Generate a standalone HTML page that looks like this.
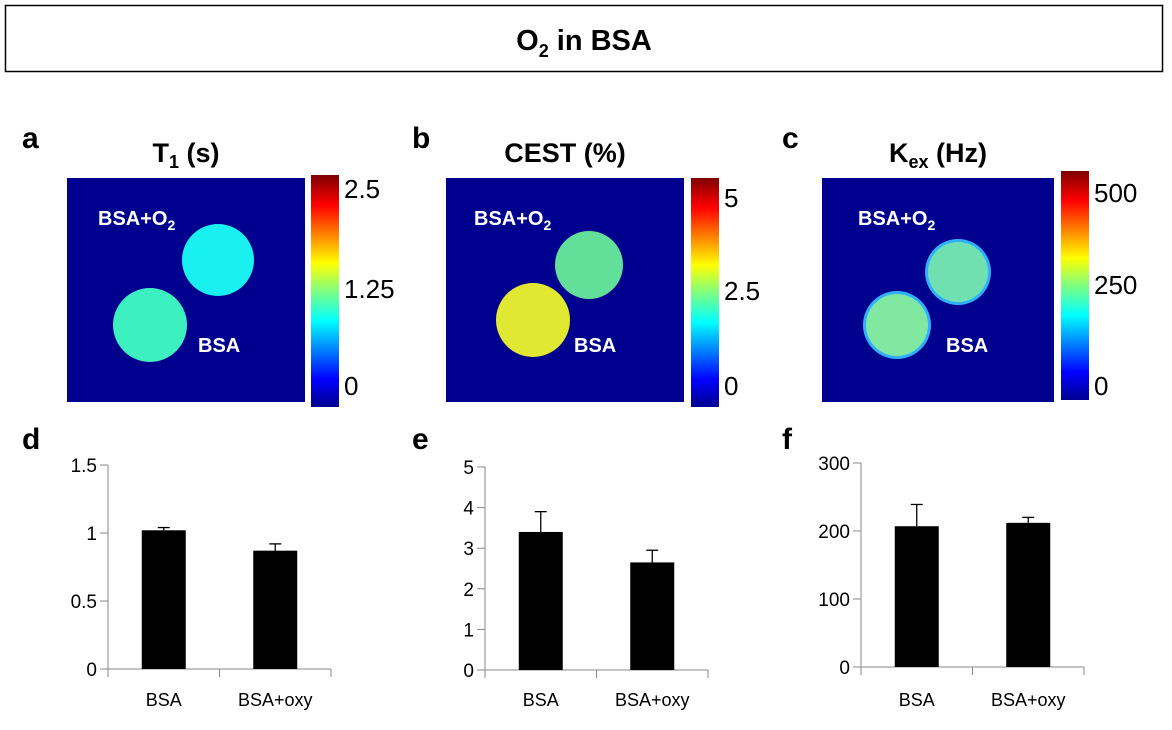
<!DOCTYPE html>
<html><head><meta charset="utf-8"><style>
body{margin:0;background:#fff;width:1172px;height:730px;overflow:hidden;font-family:"Liberation Sans",sans-serif;}
svg{position:absolute;left:0;top:0}
</style></head><body>
<svg width="1172" height="730" xmlns="http://www.w3.org/2000/svg" id="fig">
<defs>
<linearGradient id="jet" x1="0" y1="1" x2="0" y2="0">
<stop offset="0" stop-color="#00008f"/><stop offset="0.12" stop-color="#0000ff"/>
<stop offset="0.37" stop-color="#00ffff"/><stop offset="0.5" stop-color="#7fff7f"/>
<stop offset="0.62" stop-color="#ffff00"/><stop offset="0.87" stop-color="#ff0000"/>
<stop offset="1" stop-color="#800000"/></linearGradient>
</defs>
<g>
<rect x="5.5" y="5.5" width="1157" height="66" fill="#fff" stroke="#000" stroke-width="1.5"/>
<text x="584" y="50" text-anchor="middle" font-size="29" font-weight="bold">O<tspan font-size="18" dy="7">2</tspan><tspan dy="-7"> in BSA</tspan></text>
</g>
<g id="maps"></g>
<g id="bars"></g>
</svg>
<script>
const NS="http://www.w3.org/2000/svg";
function mk(p,t,a,txt){const e=document.createElementNS(NS,t);for(const k in a)e.setAttribute(k,a[k]);if(txt!==undefined)e.textContent=txt;p.appendChild(e);return e;}
// ---- map panels ----
const mapLetters=["a","b","c"];
const mapTicks=[["2.5","1.25","0"],["5","2.5","0"],["500","250","0"]];
const mapGeo=[
 {x:67,w:238,cb:311,cbY:175,cbH:232,tickY:[188,288,385],lx:22,tx:186,circ:[[218,260,36,"#19f0f0"],[150,325,37,"#3cf0c0"]],lab1:[98,225],lab2:[198,352]},
 {x:446,w:238,cb:691,cbY:178,cbH:229,tickY:[197,290,385],lx:412,tx:565,circ:[[589,265,34,"#62e09a"],[533,320,37,"#e0e832"]],lab1:[474,225],lab2:[574,352]},
 {x:822,w:232,cb:1061,cbY:171,cbH:229,tickY:[192,284,385],lx:782,tx:938,circ:[[958,272,33,"#70e0b0"],[897,325,34,"#80e8a0"]],lab1:[858,225],lab2:[946,352]}];
const maps=document.getElementById('maps');
mapGeo.forEach((g,i)=>{
 const G=mk(maps,'g',{});
 
 
 mk(G,'text',{x:g.lx,y:148,'font-size':30,'font-weight':'bold'},mapLetters[i]);
 const t=mk(G,'text',{x:g.tx,y:162,'text-anchor':'middle','font-size':27,'font-weight':'bold'});
 if(i==0)t.innerHTML='T<tspan font-size="18" dy="6">1</tspan><tspan dy="-6"> (s)</tspan>';
 else if(i==1)t.textContent='CEST (%)';
 else t.innerHTML='K<tspan font-size="18" dy="6">ex</tspan><tspan dy="-6"> (Hz)</tspan>';
 mk(G,'rect',{x:g.x,y:178,width:g.w,height:224,fill:'#00008f'});
 g.circ.forEach(c=>{ if(i==2)mk(G,'circle',{cx:c[0],cy:c[1],r:c[2],fill:'#30b0ff'}); mk(G,'circle',{cx:c[0],cy:c[1],r:i==2?c[2]-3:c[2],fill:c[3]});});
 const l1=mk(G,'text',{x:g.lab1[0],y:g.lab1[1],fill:'#fff','font-size':20,'font-weight':'bold'});
 l1.innerHTML='BSA+O<tspan font-size="14" dy="5">2</tspan>';
 mk(G,'text',{x:g.lab2[0],y:g.lab2[1],fill:'#fff','font-size':20,'font-weight':'bold'},'BSA');
 const cb=mk(G,'rect',{x:g.cb,y:g.cbY,width:28,height:g.cbH,fill:'url(#jet)'});
 
 
 mapTicks[i].forEach((s,k)=>mk(G,'text',{x:g.cb+33,y:g.tickY[k]+10,'font-size':26},s));
});
// ---- bar charts ----
const categories=["BSA","BSA+oxy"];
const tValues=[1.02,0.87], tErr=[0.02,0.05];
const cestValues=[3.4,2.65], cestErr=[0.5,0.3];
const kexValues=[207,212], kexErr=[32,8];
const tTicks=["0","0.5","1","1.5"], cestTicks=["0","1","2","3","4","5"], kexTicks=["0","100","200","300"];
const barDefs=[
 {L:"d",vals:tValues,err:tErr,ticks:tTicks,max:1.5,ax:108,top:465,bot:669,lx:22},
 {L:"e",vals:cestValues,err:cestErr,ticks:cestTicks,max:5,ax:485,top:467,bot:670,lx:412},
 {L:"f",vals:kexValues,err:kexErr,ticks:kexTicks,max:300,ax:861,top:463,bot:667,lx:782}];
const bars=document.getElementById('bars');
barDefs.forEach(d=>{
 const G=mk(bars,'g',{});
 
 
 mk(G,'text',{x:d.lx,y:449,'font-size':30,'font-weight':'bold'},d.L);
 const y=v=>d.bot-(v/d.max)*(d.bot-d.top);
 const W=223, xend=d.ax+W;
 mk(G,'line',{x1:d.ax,y1:d.top,x2:d.ax,y2:d.bot,stroke:'#888'});
 mk(G,'line',{x1:d.ax,y1:d.bot,x2:xend,y2:d.bot,stroke:'#888'});
 [0,1,2].forEach(k=>mk(G,'line',{x1:d.ax+k*W/2,y1:d.bot,x2:d.ax+k*W/2,y2:d.bot+8,stroke:'#888'}));
 d.ticks.forEach(s=>{const v=+s;const yy=y(v);
  mk(G,'line',{x1:d.ax-8,y1:yy,x2:d.ax,y2:yy,stroke:'#888'});
  mk(G,'text',{x:d.ax-11,y:yy+7,'text-anchor':'end','font-size':19},s);});
 d.vals.forEach((v,k)=>{
  const cx=d.ax+W/4+k*W/2;
  const b=mk(G,'rect',{x:cx-22,y:y(v),width:44,height:d.bot-y(v),fill:'#000'});
  
  
  const ye=y(v+d.err[k]);
  mk(G,'line',{x1:cx,y1:y(v),x2:cx,y2:ye,stroke:'#000','stroke-width':1.3});
  mk(G,'line',{x1:cx-6,y1:ye,x2:cx+6,y2:ye,stroke:'#000','stroke-width':1.3});
  mk(G,'text',{x:cx,y:706,'text-anchor':'middle','font-size':18},categories[k]);
 });
});
</script>
</body></html>
